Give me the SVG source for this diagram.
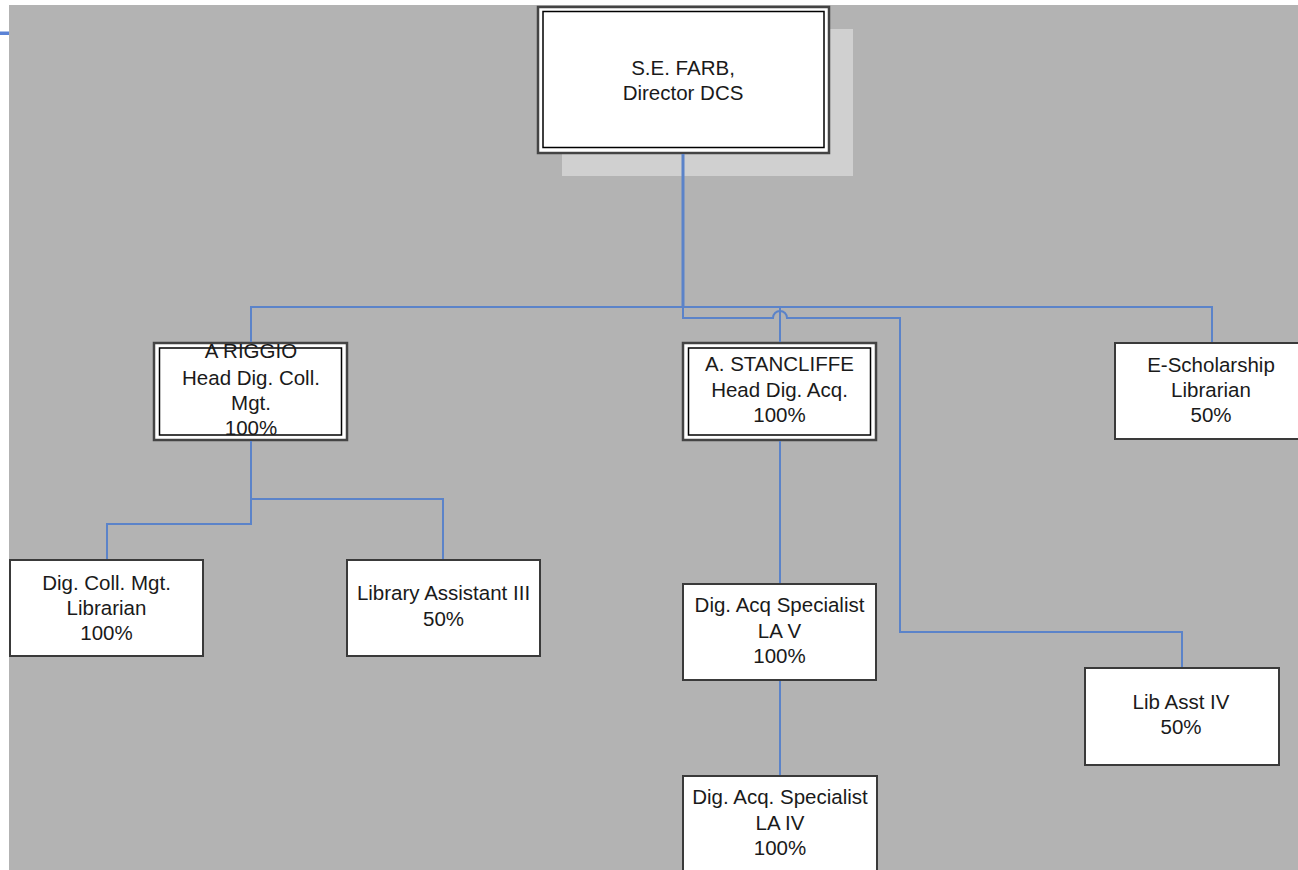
<svg xmlns="http://www.w3.org/2000/svg" width="1298" height="870" viewBox="0 0 1298 870">
<style>
.bx{fill:#fff;stroke:#3a3a3a;stroke-width:2}
.dbo{fill:#fff;stroke:#444;stroke-width:2.5}
.dbi{fill:none;stroke:#000;stroke-width:1.5}
.t{font-family:"Liberation Sans",Arial,sans-serif;font-size:20.5px;fill:#1a1a1a;text-anchor:middle}
.c{fill:none;stroke:#5b83c9;stroke-width:2}
</style>
<rect x="0" y="0" width="1298" height="870" fill="#fff"/>
<rect x="9" y="5" width="1289" height="865" fill="#b3b3b3"/>
<rect x="0" y="31.5" width="9" height="3.5" fill="#5b83d6"/>
<g id="farb">
<rect x="562" y="29" width="291" height="147" fill="#d0d0d0"/>
<rect class="dbo" x="538" y="7" width="291" height="146"/>
<rect class="dbi" x="543" y="11.5" width="281" height="136"/>
<text class="t" x="683" y="75">S.E. FARB,</text>
<text class="t" x="683" y="100">Director DCS</text>
</g>
<g id="riggio">
<rect class="dbo" x="154" y="343" width="193" height="97"/>
<rect class="dbi" x="159.5" y="348" width="182" height="87"/>
<text class="t" x="251" y="358">A RIGGIO</text>
<text class="t" x="251" y="385">Head Dig. Coll.</text>
<text class="t" x="251" y="410">Mgt.</text>
<text class="t" x="251" y="435">100%</text>
</g>
<g id="stancliffe">
<rect class="dbo" x="683" y="343" width="193" height="97"/>
<rect class="dbi" x="688.5" y="348" width="182" height="87"/>
<text class="t" x="779.5" y="371">A. STANCLIFFE</text>
<text class="t" x="779.5" y="397">Head Dig. Acq.</text>
<text class="t" x="779.5" y="422">100%</text>
</g>
<g id="escholarship">
<rect class="bx" x="1115" y="343" width="194" height="96"/>
<text class="t" x="1211" y="372">E-Scholarship</text>
<text class="t" x="1211" y="397">Librarian</text>
<text class="t" x="1211" y="422">50%</text>
</g>
<g id="digcoll">
<rect class="bx" x="10" y="560" width="193" height="96"/>
<text class="t" x="106.5" y="590">Dig. Coll. Mgt.</text>
<text class="t" x="106.5" y="615">Librarian</text>
<text class="t" x="106.5" y="640">100%</text>
</g>
<g id="libasst3">
<rect class="bx" x="347" y="560" width="193" height="96"/>
<text class="t" x="443.5" y="600">Library Assistant III</text>
<text class="t" x="443.5" y="626">50%</text>
</g>
<g id="acqlav">
<rect class="bx" x="683" y="584" width="193" height="96"/>
<text class="t" x="779.5" y="612">Dig. Acq Specialist</text>
<text class="t" x="779.5" y="638">LA V</text>
<text class="t" x="779.5" y="663">100%</text>
</g>
<g id="acqlaiv">
<rect class="bx" x="683" y="776" width="194" height="100"/>
<text class="t" x="780" y="804">Dig. Acq. Specialist</text>
<text class="t" x="780" y="830">LA IV</text>
<text class="t" x="780" y="855">100%</text>
</g>
<g id="libasst4">
<rect class="bx" x="1085" y="668" width="194" height="97"/>
<text class="t" x="1181" y="709">Lib Asst IV</text>
<text class="t" x="1181" y="734">50%</text>
</g>
<g id="connectors">
<path class="c" d="M683,154 V318 H773 A7,7 0 0 1 787,318 H900 V632 H1182 V667" />
<path class="c" d="M683,154 V307" style="stroke-width:3"/>
<path class="c" d="M251,342 V307 H1212 V342"/>
<path class="c" d="M780,307 V342"/>
<path class="c" d="M251,441 V524 H107 V559"/>
<path class="c" d="M251,499 H443 V559"/>
<path class="c" d="M780,441 V583"/>
<path class="c" d="M780,681 V775"/>
</g>
</svg>
